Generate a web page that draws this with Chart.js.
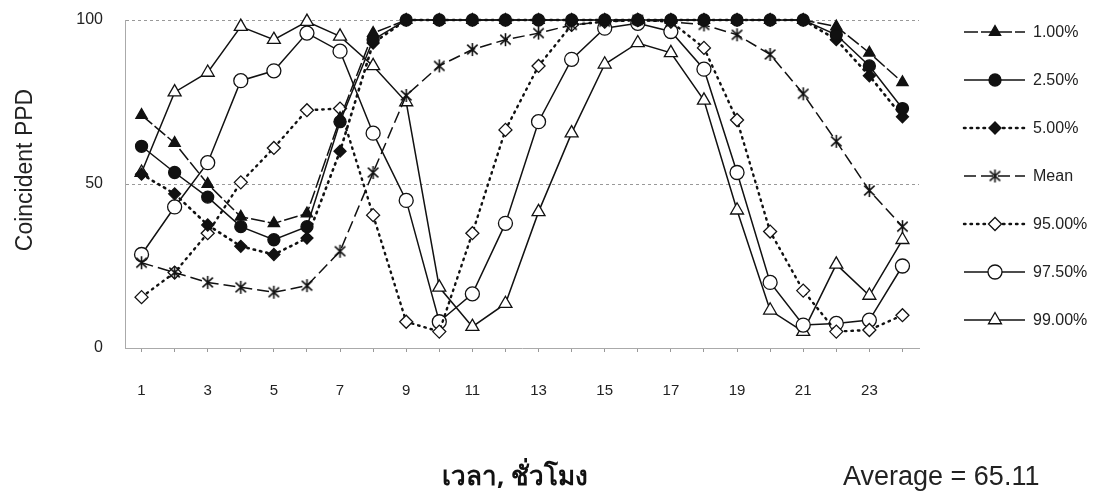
<!DOCTYPE html>
<html>
<head>
<meta charset="utf-8">
<script src="https://cdn.jsdelivr.net/npm/chart.js@4.4.1/dist/chart.umd.min.js"></script>
<style>
  html, body { margin: 0; padding: 0; background: #fff; }
  #wrap { width: 1111px; height: 497px; position: relative; }
</style>
</head>
<body>
<div id="wrap"><canvas id="c" width="1111" height="497"></canvas></div>
<script>
// ---- data ----
const hours = [1,2,3,4,5,6,7,8,9,10,11,12,13,14,15,16,17,18,19,20,21,22,23,24];
const seriesNames = ['1.00%', '2.50%', '5.00%', 'Mean', '95.00%', '97.50%', '99.00%'];
const p01 = [71, 62.5, 50, 40, 38, 41, 70, 96, 100, 100, 100, 100, 100, 100, 100, 100, 100, 100, 100, 100, 100, 98, 90, 81];
const p025 = [61.5, 53.5, 46, 37, 33, 37, 69, 94, 100, 100, 100, 100, 100, 100, 100, 100, 100, 100, 100, 100, 100, 95.5, 86, 73];
const p05 = [53, 47, 37.5, 31, 28.5, 33.5, 60, 93, 100, 100, 100, 100, 100, 100, 100, 100, 100, 100, 100, 100, 100, 94, 83, 70.5];
const pMean = [26, 23, 20, 18.5, 17, 19, 29.5, 53.5, 77, 86, 91, 94, 96, 98.5, 99.5, 100, 99.5, 98.5, 95.5, 89.5, 77.5, 63, 48, 37];
const p95 = [15.5, 23, 35, 50.5, 61, 72.5, 73, 40.5, 8, 5, 35, 66.5, 86, 98.5, 99.5, 100, 99.5, 91.5, 69.5, 35.5, 17.5, 5, 5.5, 10];
const p975 = [28.5, 43, 56.5, 81.5, 84.5, 96, 90.5, 65.5, 45, 8, 16.5, 38, 69, 88, 97.5, 99, 96.5, 85, 53.5, 20, 7, 7.5, 8.5, 25];
const p99 = [53.5, 78, 84, 98, 94, 99.5, 95, 86, 75, 18.5, 6.5, 13.5, 41.5, 65.5, 86.5, 93, 90, 75.5, 42, 11.5, 5, 25.5, 16, 33];
const yTicks = [0, 50, 100];
const yTitle = 'Coincident PPD';
const xTitle = 'เวลา, ชั่วโมง';
const avgText = 'Average = 65.11';

// ---- custom asterisk marker ----
function makeAsterisk(size) {
  const c = document.createElement('canvas');
  c.width = size; c.height = size;
  const g = c.getContext('2d');
  g.strokeStyle = '#111'; g.lineWidth = 1.6;
  const m = size / 2, r = size / 2 - 1;
  g.beginPath();
  g.moveTo(m, m - r); g.lineTo(m, m + r);
  g.moveTo(m - r * 0.8, m - r * 0.75); g.lineTo(m + r * 0.8, m + r * 0.75);
  g.moveTo(m + r * 0.8, m - r * 0.75); g.lineTo(m - r * 0.8, m + r * 0.75);
  g.stroke();
  return c;
}
const asterisk = makeAsterisk(15);

const INK = '#111';
const FONT = "'Liberation Sans', Arial, sans-serif";

function ds(label, data, style) {
  return Object.assign({
    label, data,
    borderColor: INK,
    borderWidth: 1.5,
    pointBorderColor: INK,
    pointBorderWidth: 1.3,
    tension: 0,
    fill: false,
    clip: false,
  }, style);
}

const datasets = [
  ds(seriesNames[0], p01, { borderDash: [14, 3], pointStyle: 'triangle', pointRadius: 6.5, pointBackgroundColor: INK }),
  ds(seriesNames[1], p025, { pointStyle: 'circle', pointRadius: 6, pointBackgroundColor: INK }),
  ds(seriesNames[2], p05, { borderDash: [1.5, 5], borderWidth: 2.6, borderCapStyle: 'round', pointStyle: 'rectRot', pointRadius: 6, pointBackgroundColor: INK }),
  ds(seriesNames[3], pMean, { borderDash: [12, 5], pointStyle: asterisk, pointRadius: 7, pointBackgroundColor: INK }),
  ds(seriesNames[4], p95, { borderDash: [1.5, 5], borderWidth: 2.4, borderCapStyle: 'round', pointStyle: 'rectRot', pointRadius: 6.5, pointBackgroundColor: '#fff' }),
  ds(seriesNames[5], p975, { pointStyle: 'circle', pointRadius: 7, pointBackgroundColor: '#fff' }),
  ds(seriesNames[6], p99, { pointStyle: 'triangle', pointRadius: 7.5, pointBackgroundColor: '#fff' }),
];

// legend + titles plugin
const decor = {
  id: 'decor',
  afterDraw(chart) {
    const ctx = chart.ctx;
    ctx.save();
    // y title
    ctx.fillStyle = '#222';
    ctx.font = "23px " + FONT;
    ctx.textAlign = 'center';
    ctx.textBaseline = 'middle';
    ctx.translate(26, 170);
    ctx.rotate(-Math.PI / 2);
    ctx.fillText(yTitle, 0, 0);
    ctx.restore();

    ctx.save();
    ctx.fillStyle = '#111';
    ctx.textBaseline = 'alphabetic';
    ctx.textAlign = 'left';
    ctx.font = "bold 26px 'Noto Sans', 'DejaVu Sans', sans-serif";
    ctx.fillText(xTitle, 442, 485);
    ctx.font = "27px " + FONT;
    ctx.fillStyle = '#222';
    ctx.fillText(avgText, 843, 485);
    ctx.restore();

    // legend
    const x0 = 964, x1 = 1025, xm = 995, tx = 1033;
    chart.data.datasets.forEach((d, i) => {
      const y = 32 + i * 48;
      ctx.save();
      ctx.strokeStyle = d.borderColor;
      ctx.lineWidth = d.borderWidth;
      ctx.lineCap = d.borderCapStyle || 'butt';
      ctx.setLineDash(d.borderDash || []);
      ctx.beginPath();
      ctx.moveTo(x0, y); ctx.lineTo(x1, y);
      ctx.stroke();
      ctx.setLineDash([]);
      ctx.restore();
      ctx.save();
      ctx.fillStyle = d.pointBackgroundColor;
      ctx.strokeStyle = d.pointBorderColor;
      ctx.lineWidth = d.pointBorderWidth;
      Chart.helpers.drawPoint(ctx, { pointStyle: d.pointStyle, radius: d.pointRadius, borderWidth: d.pointBorderWidth, rotation: 0 }, xm, y);
      ctx.restore();
      ctx.save();
      ctx.fillStyle = '#222';
      ctx.font = "16px " + FONT;
      ctx.textBaseline = 'middle';
      ctx.textAlign = 'left';
      ctx.fillText(d.label, tx, y + 1);
      ctx.restore();
    });
  }
};

new Chart(document.getElementById('c'), {
  type: 'line',
  data: { labels: hours, datasets },
  options: {
    responsive: false,
    animation: false,
    devicePixelRatio: 1,
    layout: { padding: { top: 20, right: 192, bottom: 0, left: 0 } },
    plugins: { legend: { display: false }, tooltip: { enabled: false } },
    scales: {
      x: {
        type: 'category',
        offset: true,
        grid: { display: true, drawOnChartArea: false, drawTicks: true, tickLength: 4, color: '#999', offset: false },
        border: { display: true, color: '#aaa', dash: [3, 3] },
        ticks: {
          autoSkip: false, maxRotation: 0,
          padding: 30,
          color: '#222',
          font: { family: FONT, size: 15 },
          callback(v, i) { const h = hours[i]; return h % 2 === 1 ? String(h) : ''; }
        },
        afterFit(s) { s.height = 149; s.paddingLeft = 0; s.paddingRight = 0; }
      },
      y: {
        min: 0, max: 100,
        afterBuildTicks(s) { s.ticks = yTicks.map(v => ({ value: v })); },
        grid: { display: true, drawTicks: false, color: (c) => c.tick && c.tick.value === 0 ? 'rgba(0,0,0,0)' : '#999', lineWidth: 1 },
        border: { display: true, color: '#aaa', dash: [3, 3] },
        ticks: { padding: 22, color: '#222', font: { family: FONT, size: 16 } },
        afterFit(s) { s.width = 125; s.paddingTop = 0; s.paddingBottom = 0; }
      }
    }
  },
  plugins: [decor]
});
</script>
</body>
</html>
